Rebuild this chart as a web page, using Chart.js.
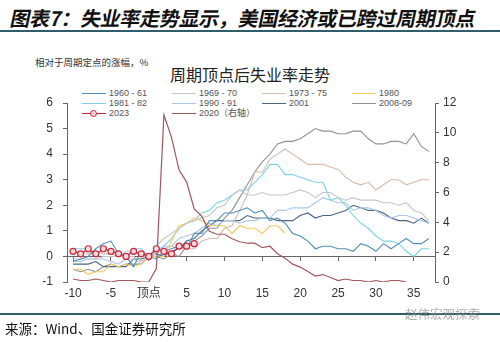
<!DOCTYPE html>
<html>
<head>
<meta charset="utf-8">
<title>周期顶点后失业率走势</title>
<script src="https://cdn.jsdelivr.net/npm/chart.js"></script>
<style>
  body { margin: 0; background: #fff; }
  #page { position: relative; width: 500px; height: 342px; overflow: hidden; font-family: "Noto Sans CJK SC", sans-serif; }
  #wrap { position: absolute; left: 0; top: 0; width: 500px; height: 342px; }
  #title { position: absolute; left: 8px; top: 3px; font-size: 20px; font-weight: bold; color: #111; white-space: nowrap; transform: skewX(-12deg); transform-origin: left bottom; letter-spacing: -0.3px; }
  .rule { position: absolute; left: 0; width: 500px; height: 2px; background: #2f5d6b; }
  #unit { position: absolute; left: 35px; top: 55px; font-size: 9.5px; color: #333; white-space: nowrap; }
  #ctitle { position: absolute; left: 0; width: 500px; top: 62px; text-align: center; font-size: 16px; color: #222; }
  .lg { position: absolute; font-size: 9px; color: #555; white-space: nowrap; line-height: 10px; font-family: "Liberation Sans", "Noto Sans CJK SC", sans-serif; }
  .lg i { display: inline-block; width: 24px; height: 1.2px; vertical-align: middle; margin-right: 3px; position: relative; }
  .lg i b { position: absolute; left: 8px; top: -3px; width: 5px; height: 5px; border-radius: 50%; border: 1.2px solid #c8283c; background: #fbd9db; }
  #source { position: absolute; left: 5px; top: 318px; font-size: 13.5px; color: #111; white-space: nowrap; }
  #wm { position: absolute; left: 405px; top: 304px; font-size: 12.5px; color: rgba(140,140,140,0.7); white-space: nowrap; }
</style>
</head>
<body>
<div id="page">
  <div id="title">图表7：失业率走势显示，美国经济或已跨过周期顶点</div>
  <div class="rule" style="top:30px"></div>
  <div id="unit">相对于周期定点的涨幅，%</div>
  <div id="ctitle">周期顶点后失业率走势</div>
  <div id="legend"></div>
  <div id="wrap"><canvas id="myChart"></canvas></div>
  <div class="rule" style="top:313px"></div>
  <div id="wm">赵伟宏观探索</div>
  <div id="source">来源：Wind、国金证券研究所</div>
</div>

<script>
// months relative to the cycle peak
const months = [-10, -9, -8, -7, -6, -5, -4, -3, -2, -1, 0, 1, 2, 3, 4, 5, 6, 7, 8, 9,
  10, 11, 12, 13, 14, 15, 16, 17, 18, 19, 20, 21, 22, 23, 24, 25, 26, 27, 28, 29,
  30, 31, 32, 33, 34, 35, 36, 37];
const xTicks = [-10, -5, 0, 5, 10, 15, 20, 25, 30, 35];

// change in unemployment rate vs. the peak month, %
const s1960 = [-0.2, -0.1, 0.0, 0.3, 0.5, 0.6, 0.1, 0.0, -0.4, 0.2,
  0, -0.1, 0.2, 0.3, 0.4, 0.3, 0.9, 0.9, 1.4, 1.4,
  1.7, 1.7, 1.8, 1.9, 1.7, 1.8, 1.4, 1.5, 1.3, 0.9,
  0.8, 0.6, 0.3, 0.4, 0.4, 0.3, 0.3, 0.2, 0.5, 0.4,
  0.2, 0.5, 0.3, 0.5, 0.7, 0.5, 0.5, 0.7];
const s1969 = [-0.1, -0.1, -0.1, -0.1, 0, 0, 0, 0.2, 0.2, 0,
  0, 0.4, 0.7, 0.9, 1.1, 1.3, 1.4, 1.5, 1.6, 1.9,
  2.0, 2.4, 2.6, 2.4, 2.4, 2.5, 2.4, 2.4, 2.4, 2.5,
  2.6, 2.5, 2.3, 2.5, 2.5, 2.3, 2.2, 2.3, 2.2, 2.2,
  2.2, 2.1, 2.1, 2.0, 2.1, 1.8, 1.7, 1.4];
const s1973 = [0.1, 0.2, 0.1, 0.2, 0.1, 0.1, 0, 0, 0, -0.2,
  0, 0.1, 0.3, 0.4, 0.3, 0.3, 0.3, 0.6, 0.7, 0.7,
  1.1, 1.2, 1.8, 2.4, 3.3, 3.3, 3.8, 4.0, 4.2, 4.0,
  3.8, 3.6, 3.6, 3.6, 3.5, 3.4, 3.1, 2.9, 2.8, 2.9,
  2.6, 2.8, 3.0, 3.0, 2.8, 2.9, 3.0, 3.0];
const s1980 = [-0.5, -0.5, -0.7, -0.6, -0.6, -0.3, -0.4, -0.3, -0.4, -0.3,
  0, 0, 0, 0.6, 1.2, 1.3, 1.5, 1.4, 1.2, 1.2,
  1.2, 0.9, 1.2, 1.1, 1.1, 0.9, 1.2, 1.2, 0.9];
const s1981 = [0.3, 0.3, 0.3, 0.0, 0.3, 0.2, 0.2, 0.0, 0.3, 0.3,
  0, 0.2, 0.4, 0.7, 1.1, 1.3, 1.4, 1.7, 1.8, 2.1,
  2.2, 2.4, 2.6, 2.6, 2.9, 3.2, 3.6, 3.6, 3.2, 3.2,
  3.1, 3.0, 2.9, 2.9, 2.2, 2.3, 2.0, 1.6, 1.3, 1.1,
  0.8, 0.6, 0.6, 0.5, 0.2, 0.0, 0.3, 0.3];
const s1990 = [-0.2, -0.2, -0.1, -0.1, -0.1, -0.2, -0.3, -0.1, -0.1, -0.3,
  0, 0.2, 0.4, 0.4, 0.7, 0.8, 0.9, 1.1, 1.3, 1.2,
  1.4, 1.4, 1.3, 1.4, 1.4, 1.5, 1.5, 1.8, 1.8, 1.9,
  1.9, 1.9, 2.1, 2.3, 2.2, 2.1, 2.1, 1.8, 1.9, 1.9,
  1.8, 1.6, 1.5, 1.6, 1.6, 1.5, 1.4, 1.3];
const s2001 = [-0.3, -0.3, -0.3, -0.2, -0.4, -0.4, -0.4, -0.4, -0.1, -0.1,
  0, 0.1, 0, 0.2, 0.3, 0.6, 0.7, 1.0, 1.2, 1.4,
  1.4, 1.4, 1.4, 1.6, 1.5, 1.5, 1.5, 1.4, 1.4, 1.4,
  1.6, 1.7, 1.5, 1.6, 1.6, 1.7, 1.8, 2.0, 1.9, 1.8,
  1.8, 1.7, 1.5, 1.4, 1.4, 1.3, 1.5, 1.3];
const s2008 = [-0.5, -0.6, -0.5, -0.6, -0.4, -0.3, -0.4, -0.3, -0.3, -0.3,
  0, 0, -0.1, 0.1, 0, 0.4, 0.6, 0.8, 1.1, 1.1,
  1.5, 1.8, 2.3, 2.8, 3.3, 3.7, 4.0, 4.4, 4.5, 4.5,
  4.6, 4.8, 5.0, 4.9, 4.9, 4.8, 4.8, 4.9, 4.9, 4.6,
  4.4, 4.4, 4.5, 4.5, 4.4, 4.8, 4.3, 4.1];
const s2023 = [0.2, 0.1, 0.3, 0.1, 0.3, 0.2, 0.1, 0.0, 0.2, 0.1,
  0.0, 0.3, 0.2, 0.1, 0.4, 0.4, 0.5];
// 2020 on the right axis
const s2020 = [0.2, 0.1, 0.1, 0.2, 0.1, 0.0, 0.1, 0.1, 0.1, 0.0,
  0.0, 0.9, 11.2, 9.7, 7.5, 6.7, 4.9, 4.4, 3.4, 3.2,
  3.2, 2.9, 2.7, 2.6, 2.6, 2.3, 2.4, 1.9, 1.6, 1.2,
  1.0, 0.7, 0.4, 0.5, 0.3, 0.1, 0.2, 0.1, 0.1, 0.0,
  0.1, 0.0, 0.1, 0.1, 0.0];

const names = ['1960 - 61', '1969 - 70', '1973 - 75', '1980', '1981 - 82', '1990 - 91', '2001', '2008-09', '2023', '2020（右轴）'];
const values = [s1960, s1969, s1973, s1980, s1981, s1990, s2001, s2008, s2023, s2020];
const colors = ['#4f8fb6', '#c6c6c6', '#d6bcac', '#f6c85f', '#7ad2ea', '#a8c9e8', '#4a6482', '#929292', '#c8283c', '#a3575c'];

function pts(arr) {
  return arr.map((v, i) => ({ x: months[i], y: v }));
}

const datasets = values.map((arr, i) => {
  const is2023 = i === 8;
  const is2020 = i === 9;
  return {
    label: names[i],
    data: pts(arr),
    borderColor: colors[i],
    backgroundColor: colors[i],
    borderWidth: is2020 ? 1.2 : 1.1,
    pointRadius: is2023 ? 3 : 0,
    pointBorderWidth: 1.2,
    pointBorderColor: '#c8283c',
    pointBackgroundColor: '#fbd9db',
    tension: 0,
    yAxisID: is2020 ? 'y2' : 'y',
    order: is2023 ? 0 : (is2020 ? 1 : 2)
  };
});

// legend grid
const legend = document.getElementById('legend');
names.forEach((n, i) => {
  const row = Math.floor(i / 4), col = i % 4;
  const d = document.createElement('div');
  d.className = 'lg';
  d.style.left = (82 + col * 90) + 'px';
  d.style.top = (88 + row * 10) + 'px';
  d.innerHTML = '<i style="background:' + colors[i] + '">' + (i === 8 ? '<b></b>' : '') + '</i>' + n;
  legend.appendChild(d);
});

const axisColor = '#666';
const tickFont = { family: '"Liberation Sans", "Noto Sans CJK SC", sans-serif', size: 12 };
const setXTicks = axis => { axis.ticks = xTicks.map(v => ({ value: v })); };

const ctx = document.getElementById('myChart').getContext('2d');
new Chart(ctx, {
  type: 'line',
  data: { datasets: datasets },
  options: {
    responsive: true,
    maintainAspectRatio: false,
    animation: false,
    layout: { padding: { top: 103, left: 0, right: 0, bottom: 30 } },
    plugins: { legend: { display: false }, tooltip: { enabled: false } },
    scales: {
      x: {
        type: 'linear', position: 'bottom', min: -10.8, max: 37.8,
        afterBuildTicks: setXTicks,
        afterFit: s => { s.height = 30; },
        grid: { display: false, drawTicks: false },
        border: { display: false },
        ticks: {
          padding: 4, color: '#333', font: tickFont, maxRotation: 0, autoSkip: false,
          callback: v => v === 0 ? '顶点' : v
        }
      },
      xZero: {
        type: 'linear', axis: 'x', position: { y: 0 }, min: -10.8, max: 37.8,
        afterBuildTicks: setXTicks,
        grid: { drawOnChartArea: false, drawTicks: true, tickLength: 4, color: axisColor },
        border: { color: axisColor, width: 1 },
        ticks: { display: false }
      },
      y: {
        position: 'left', min: -1, max: 6,
        afterFit: s => { s.width = 67; },
        grid: { drawOnChartArea: false, tickLength: 4, color: axisColor },
        border: { color: axisColor },
        ticks: { stepSize: 1, padding: 10, color: '#333', font: tickFont }
      },
      y2: {
        position: 'right', min: 0, max: 12,
        afterFit: s => { s.width = 65; },
        grid: { drawOnChartArea: false, tickLength: 4, color: axisColor },
        border: { color: axisColor },
        ticks: { stepSize: 2, padding: 4, color: '#333', font: tickFont }
      }
    }
  }
});
</script>
</body>
</html>
